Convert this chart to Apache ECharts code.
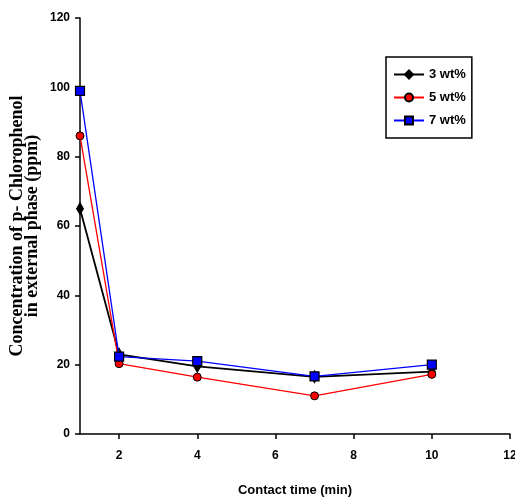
<!DOCTYPE html>
<html><head><meta charset="utf-8">
<script src="https://cdn.jsdelivr.net/npm/echarts@6/dist/echarts.min.js"></script>
<style>html,body{margin:0;padding:0;background:#fff}#c{width:515px;height:500px}</style>
</head><body><div id="c"></div>
<script>
var contactTime = [1, 2, 4, 7, 10];
var wt3 = [65, 23, 19.5, 16.5, 18];
var wt5 = [86, 20.3, 16.4, 11, 17.2];
var wt7 = [99, 22.3, 21, 16.6, 20];
var xTicks = [2, 4, 6, 8, 10, 12];
var seriesNames = ['3 wt%', '5 wt%', '7 wt%'];

var font = '"Liberation Sans Narrow", "Liberation Sans", Arial, sans-serif';
function pairs(v){ return contactTime.map(function(x,i){return [x, v[i]];}); }

var chart = echarts.init(document.getElementById('c'), null, {renderer:'canvas'});
chart.setOption({
  animation:false,
  backgroundColor:'#fff',
  grid:{left:80, right:5, top:18, bottom:66, containLabel:false, outerBoundsMode:'none'},
  legend:{
    orient:'vertical', left:386, top:57,
    data:seriesNames,
    borderColor:'#000', borderWidth:1.5, borderRadius:0,
    padding:[11,6,11,7], itemWidth:30, itemHeight:10, itemGap:10,
    textStyle:{fontFamily:font, fontWeight:'bold', fontSize:13, color:'#000'}
  },
  xAxis:{
    type:'value', min:1, max:12,
    name:'Contact time (min)', nameLocation:'middle', nameGap:50, nameMoveOverlap:false,
    nameTextStyle:{fontFamily:font, fontWeight:'bold', fontSize:13, color:'#000'},
    axisLine:{show:true, lineStyle:{color:'#000', width:1.5}},
    axisTick:{show:true, customValues:xTicks, length:5, lineStyle:{color:'#000', width:1.5}},
    axisLabel:{customValues:xTicks, fontFamily:font, fontWeight:'bold', fontSize:12, color:'#000', margin:16},
    splitLine:{show:false}
  },
  yAxis:{
    type:'value', min:0, max:120, interval:20,
    name:'Concentration of p- Chlorophenol\nin external phase (ppm)',
    nameLocation:'middle', nameRotate:90, nameGap:40, nameMoveOverlap:false,
    nameTextStyle:{fontFamily:'"Liberation Serif", "Times New Roman", serif', fontWeight:'bold', fontSize:18, color:'#000', lineHeight:15},
    axisLine:{show:true, onZero:false, lineStyle:{color:'#000', width:1.5}},
    axisTick:{show:true, length:5, lineStyle:{color:'#000', width:1.5}},
    axisLabel:{fontFamily:font, fontWeight:'bold', fontSize:12, color:'#000', margin:10},
    splitLine:{show:false}
  },
  series:[
    {name:seriesNames[0], type:'line', data:pairs(wt3), symbol:'diamond', symbolSize:[7,12],
     itemStyle:{color:'#000', borderColor:'#000', borderWidth:1}, lineStyle:{color:'#000', width:1.8}, z:3},
    {name:seriesNames[1], type:'line', data:pairs(wt5), symbol:'circle', symbolSize:8,
     itemStyle:{color:'#ff0000', borderColor:'#000', borderWidth:1}, lineStyle:{color:'#ff0000', width:1.3}, z:4},
    {name:seriesNames[2], type:'line', data:pairs(wt7), symbol:'rect', symbolSize:9,
     itemStyle:{color:'#0000ff', borderColor:'#000', borderWidth:1.2}, lineStyle:{color:'#0000ff', width:1.3}, z:5}
  ]
});
</script></body></html>
